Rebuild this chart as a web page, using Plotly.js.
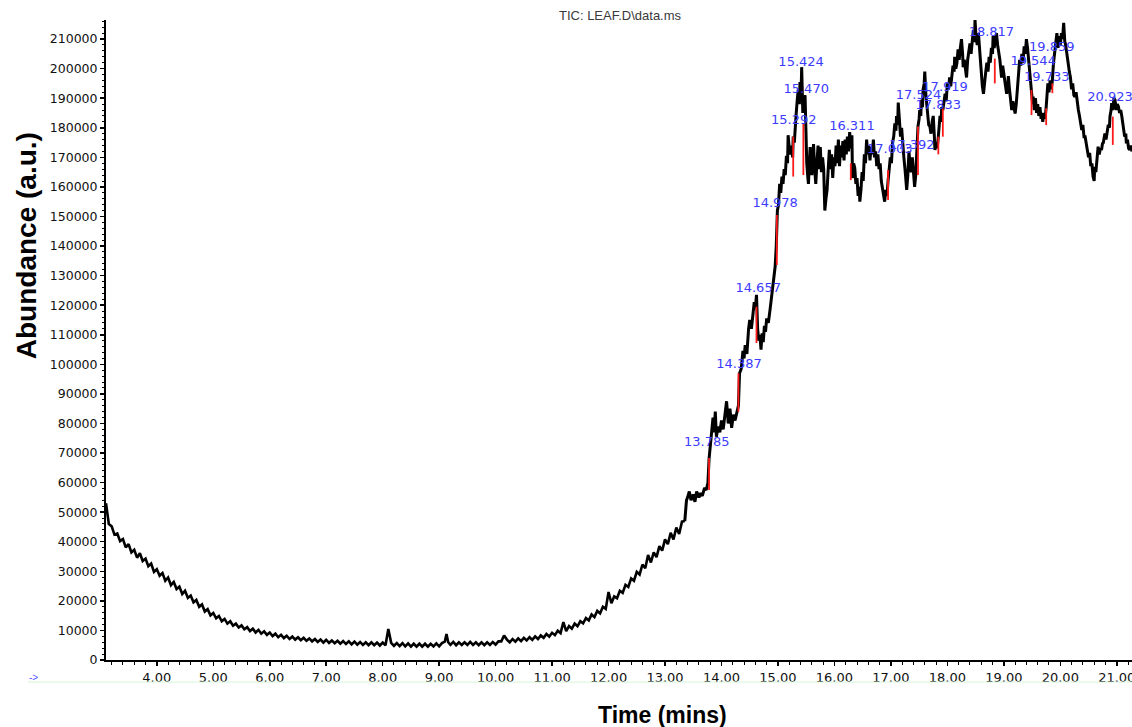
<!DOCTYPE html>
<html><head><meta charset="utf-8">
<script src="https://cdn.plot.ly/plotly-3.0.1.min.js"></script>
<style>html,body{margin:0;padding:0;background:#fff;} #chart{width:1132px;height:727px;}</style>
</head><body><div id="chart"></div>
<script>
// ---- TIC trace: retention time (min) and abundance ----
const baselineTime = [
3.10,3.15,3.20,3.25,3.30,3.35,3.40,3.45,3.50,3.55,
3.60,3.65,3.70,3.75,3.80,3.85,3.90,3.95,4.00,4.05,
4.10,4.15,4.20,4.25,4.30,4.35,4.40,4.45,4.50,4.55,
4.60,4.65,4.70,4.75,4.80,4.85,4.90,4.95,5.00,5.05,
5.10,5.15,5.20,5.25,5.30,5.35,5.40,5.45,5.50,5.55,
5.60,5.65,5.70,5.75,5.80,5.85,5.90,5.95,6.00,6.05,
6.10,6.15,6.20,6.25,6.30,6.35,6.40,6.45,6.50,6.55,
6.60,6.65,6.70,6.75,6.80,6.85,6.90,6.95,7.00,7.05,
7.10,7.15,7.20,7.25,7.30,7.35,7.40,7.45,7.50,7.55,
7.60,7.65,7.70,7.75,7.80,7.85,7.90,7.95,8.00,8.05,
8.10,8.15,8.20,8.25,8.30,8.35,8.40,8.45,8.50,8.55,
8.60,8.65,8.70,8.75,8.80,8.85,8.90,8.95,9.00,9.05,
9.10,9.13,9.16,9.20,9.25,9.30,9.35,9.40,9.45,9.50,
9.55,9.60,9.65,9.70,9.75,9.80,9.85,9.90,9.95,10.00,
10.05,10.10,10.15,10.20,10.25,10.30,10.35,10.40,10.45,10.50,
10.55,10.60,10.65,10.70,10.75,10.80,10.85,10.90,10.95,11.00,
11.05,11.10,11.15,11.20,11.25,11.30,11.35,11.40,11.45,11.50,
11.55,11.60,11.65,11.70,11.75,11.80,11.85,11.90,11.95,12.00,
12.05,12.10,12.15,12.20,12.25,12.30,12.35,12.40,12.45,12.50,
12.55,12.60,12.65,12.70,12.75,12.80,12.85,12.90,12.95,13.00,
13.05,13.10,13.15,13.20,13.25,13.30,13.35
];
const baselineAbundance = [
53000,46000,45200,42400,42800,40200,40900,38100,39200,36400,
37300,34600,36100,33500,34300,31700,32600,29800,30700,28500,
29400,26800,27900,25300,26400,24000,24800,22300,23400,21000,
21800,19500,20300,18000,18800,16400,17200,15100,15900,14100,
14900,13100,13900,12300,13100,11600,12300,11000,11700,10400,
11100,9800,10600,9300,10200,8900,9700,8500,9300,8100,
8900,7700,8500,7400,8200,7100,7900,6900,7700,6700,
7500,6500,7300,6300,7100,6100,6900,5900,6800,5800,
6600,5700,6500,5500,6400,5400,6300,5300,6200,5200,
6100,5100,6000,5000,6000,5000,5900,4900,5900,5000,
10500,5800,4800,5700,4700,5700,4600,5600,4500,5500,
4500,5500,4500,5500,4500,5500,4600,5600,4600,5700,
6200,8800,6000,5100,6100,5000,6000,5100,6000,5100,
6100,5100,6000,5000,6000,5000,6000,5100,6100,5200,
6300,6300,8300,6900,6000,7100,6200,7300,6400,7500,
6600,7700,6800,8000,7100,8300,7500,8800,7900,9200,
8400,9900,9100,12800,9800,11500,10600,12300,11400,13100,
12400,14200,13400,15400,14500,16600,15800,18000,17300,23000,
19200,21500,20900,23400,22700,25400,24700,27600,26800,29800,
28900,32300,31000,35500,33000,36400,34800,38500,37000,40800,
39200,43000,40800,44800,42600,46800,47000
];
const peakZoneTime = [
13.35,13.38,13.40,13.43,13.46,13.50,13.53,13.56,13.60,13.63,13.66,
13.70,13.73,13.76,13.78,13.80,13.82,13.85,13.87,13.89,13.91,
13.94,13.97,14.00,14.03,14.06,14.09,14.12,14.15,14.18,14.21,
14.24,14.27,14.30,14.32,14.35,14.38,14.40,14.42,14.45,14.48,
14.50,14.53,14.56,14.58,14.60,14.62,14.64,14.66,14.68,14.70,
14.72,14.74,14.76,14.78,14.80,14.83,14.86,14.88,14.90,14.92,
14.95,14.97,14.99,15.01,15.03,15.05,15.07,15.09,15.11,15.13,
15.15,15.17,15.18,15.21,15.24,15.26,15.27,15.29,15.30,15.32,
15.34,15.36,15.38,15.39,15.41,15.42,15.44,15.46,15.48,15.49,
15.51,15.53,15.54,15.56,15.57,15.59,15.60,15.62,15.63,15.65,
15.67,15.69,15.71,15.73,15.75,15.77,15.79,15.81,15.83,15.85,
15.87,15.89,15.91,15.93,15.95,15.97,15.99,16.01,16.03,16.05,
16.07,16.09,16.11,16.13,16.15,16.17,16.19,16.21,16.23,16.25,
16.27,16.29,16.31,16.32,16.34,16.36,16.38,16.40,16.42,16.44,
16.45,16.47,16.49,16.51,16.53,16.55,16.57,16.59,16.61,16.63,
16.65,16.67,16.69,16.71,16.73,16.75,16.77,16.79,16.81,16.83,
16.85,16.87,16.89,16.91,16.93,16.95,16.97,16.99,17.01,17.03,
17.05,17.07,17.09,17.10,17.12,17.13,17.15,17.17,17.19,17.21,
17.23,17.25,17.27,17.28,17.30,17.32,17.34,17.36,17.38,17.40,
17.42,17.44,17.45,17.47,17.48,17.50,17.51,17.53,17.54,17.56,
17.57,17.59,17.60,17.62,17.63,17.65,17.67,17.69,17.71,17.73,
17.75,17.77,17.78,17.80,17.82,17.84,17.86,17.87,17.89,17.90,
17.92,17.94,17.96,17.98,18.00,18.02,18.04,18.06,18.08,18.10,
18.12,18.13,18.15,18.17,18.19,18.21,18.23,18.25,18.27,18.28,
18.30,18.32,18.34,18.36,18.38,18.40,18.42,18.44,18.46,18.48,
18.49,18.51,18.53,18.55,18.57,18.58,18.60,18.62,18.64,18.66,
18.68,18.70,18.72,18.74,18.76,18.78,18.80,18.81,18.83,18.85,
18.87,18.89,18.91,18.93,18.95,18.96,18.98,19.00,19.02,19.04,
19.05,19.07,19.08,19.10,19.11,19.13,19.14,19.16,19.18,19.20,
19.22,19.23,19.25,19.26,19.28,19.30,19.32,19.34,19.36,19.38,
19.40,19.42,19.43,19.45,19.47,19.49,19.51,19.52,19.54,19.56,
19.58,19.60,19.62,19.64,19.66,19.67,19.69,19.71,19.73,19.75,
19.76,19.78,19.80,19.82,19.84,19.86,19.88,19.90,19.91,19.93,
19.94,19.96,19.98,20.00,20.02,20.04,20.06,20.08,20.09,20.11,
20.12,20.14,20.16,20.18,20.20,20.22,20.24,20.26,20.28,20.30,
20.32,20.34,20.36,20.38,20.40,20.42,20.44,20.46,20.48,20.50,
20.52,20.54,20.56,20.58,20.60,20.61,20.63,20.65,20.67,20.69,
20.71,20.73,20.75,20.76,20.78,20.79,20.81,20.83,20.85,20.87,
20.88,20.90,20.91,20.93,20.95,20.97,20.99,21.01,21.03,21.05,
21.07,21.09,21.11,21.12,21.14,21.16,21.17,21.19,21.21,21.23,
21.25,21.27
];
const peakZoneAbundance = [
47000,54000,55000,57000,54000,56000,53500,57000,55000,56500,55500,
58200,57500,60000,68000,72000,76000,82000,77000,84000,75500,
79000,77000,81000,78000,84000,87500,80000,85000,78500,83000,
81000,84000,86000,97000,98500,104500,102000,106500,103500,112000,
115000,112000,118500,121000,119000,123500,112000,108000,110000,105000,
110500,107500,113000,111000,115500,114000,118500,122000,125000,128500,
133000,140000,152000,154000,161000,158000,163500,161000,166000,164000,
170500,168000,177500,171000,174000,170000,177000,175000,180000,184000,
189000,193000,188000,195500,192000,200500,185000,190000,191000,178000,
168000,163000,161000,170000,173500,166000,164000,171000,174500,166000,
161000,168000,174000,166000,173500,165000,170000,166000,152000,156000,
159000,166000,172500,166000,171000,163000,170000,167000,174000,168000,
176000,167000,174000,170000,175500,169000,176000,171000,177000,172000,
178500,173000,177500,163000,168000,166500,161000,163000,157000,160000,
155000,159000,165000,162000,171000,168000,176000,171000,174000,169000,
173500,171000,176000,170000,172000,167000,171000,166000,168000,162000,
159000,156500,155000,159000,157000,162000,166000,170000,168000,175000,
177000,181500,179000,184000,181000,188500,183000,177000,180000,173000,
170000,166000,161000,159000,164000,172000,167000,165000,170000,163000,
160000,164000,168000,175000,180500,183000,186000,184000,189500,187000,
193000,195000,199000,191000,189000,185000,181000,180500,178000,182000,
184000,177000,172500,175000,173000,177000,181000,184000,182000,187000,
186000,190000,191500,189000,195000,193000,197000,194000,197500,201000,
199000,204000,200000,202000,206500,203000,207000,210000,205000,200500,
203000,199000,197000,203000,206000,208500,205000,210000,213000,209000,
216500,210000,208000,212000,206000,203000,197000,194000,191500,196000,
199000,202000,199000,204000,202000,207000,205000,211000,207000,210000,
212000,208000,206000,203000,199000,197000,201000,198000,195000,193000,
191500,194000,197500,193000,190500,188000,186000,189000,187000,184800,
188000,190500,193000,197000,203000,201000,205000,202000,207500,205000,
210000,207000,205000,201000,196000,193000,188000,190500,186000,190000,
185000,188000,184000,187000,183000,185000,182000,185000,183000,187000,
190500,195000,192000,196000,193000,196000,202000,205000,207500,210000,
212000,207000,211000,208000,212000,210000,215500,209000,208500,206000,
204000,201800,199000,197000,193000,195000,191000,190500,192000,188000,
186000,184000,181000,179200,181000,177000,177000,174000,172000,170000,
171500,167000,168000,163500,162000,166800,165000,170000,173600,171000,
173000,172500,175000,174700,177000,178100,176000,179000,181000,180000,
183800,186000,188300,186000,190000,189400,186000,188000,187100,185000,
186000,183800,181000,179200,177000,178000,174700,176000,173000,172500,
174000,172000
];

// ---- integration drop lines (red): time, lower and upper abundance ----
const dropTime = [13.78,14.30,14.62,14.98,15.27,15.45,16.29,16.95,17.48,17.84,17.92,18.84,19.49,19.75,19.86,20.93];
const dropLow  = [57500,84000,107200,133600,163500,164000,162300,155600,164000,171000,177000,195000,184300,180900,191700,174200];
const dropHigh = [68300,97000,119500,150500,177000,181500,168000,165700,180400,177000,186600,203400,192800,186600,195000,183800];

// ---- peak retention-time labels (blue) ----
const peakLabels = ['13.785','14.387','14.657','14.978','15.424','15.470','15.292','16.311','17.003','17.392','17.524','17.919','17.833','18.817','19.544','19.859','19.733','20.923'];
const peakLabelTime = [13.74,14.31,14.65,14.95,15.41,15.50,15.28,16.31,16.98,17.37,17.49,17.96,17.84,18.78,19.52,19.85,19.76,20.88];
const peakLabelAbundance = [73400,99800,125500,154200,201900,192800,182300,180300,172500,173900,190700,193400,187500,212200,202300,206900,197000,190300];

const dropX = [], dropY = [];
dropTime.forEach(function(t, i){ dropX.push(t, t, null); dropY.push(dropLow[i], dropHigh[i], null); });

const traces = [
  {x: baselineTime, y: baselineAbundance, type: 'scatter', mode: 'lines',
   line: {color: '#000000', width: 2.6}, hoverinfo: 'skip', showlegend: false},
  {x: peakZoneTime, y: peakZoneAbundance, type: 'scatter', mode: 'lines',
   line: {color: '#000000', width: 3}, hoverinfo: 'skip', showlegend: false},
  {x: dropX, y: dropY, type: 'scatter', mode: 'lines',
   line: {color: '#ff1a1a', width: 1.8}, hoverinfo: 'skip', showlegend: false},
  {x: peakLabelTime, y: peakLabelAbundance, type: 'scatter', mode: 'text', text: peakLabels,
   textposition: 'middle center', cliponaxis: false,
   textfont: {family: 'DejaVu Sans', size: 13, color: '#3c3cff'}, hoverinfo: 'skip', showlegend: false}
];

const layout = {
  width: 1132, height: 727,
  margin: {l: 106, r: 0, t: 20, b: 67},
  paper_bgcolor: '#ffffff', plot_bgcolor: '#ffffff',
  showlegend: false,
  title: {text: 'TIC: LEAF.D\\data.ms', xref: 'paper', x: 0.501, xanchor: 'center',
          yref: 'container', y: 0.979, yanchor: 'middle',
          font: {family: 'Liberation Sans, Arial', size: 13, color: '#3a3a3a'}},
  xaxis: {range: [3.1, 21.27], showgrid: false, zeroline: false,
          showline: true, linecolor: '#000', linewidth: 2,
          ticks: 'outside', ticklen: 4, tickwidth: 1.5, tickcolor: '#000',
          tick0: 0, dtick: 1, tickformat: '.2f', ticklabeloverflow: 'allow',
          tickfont: {family: 'DejaVu Sans', size: 13, color: '#111'},
          minor: {dtick: 0.2, ticks: 'outside', ticklen: 3, tickwidth: 1, tickcolor: '#000', showgrid: false},
          fixedrange: true},
  yaxis: {range: [0, 216450], showgrid: false, zeroline: false,
          showline: true, linecolor: '#000', linewidth: 2,
          ticks: 'outside', ticklen: 4, tickwidth: 1.5, tickcolor: '#000',
          tick0: 0, dtick: 10000, tickformat: 'd',
          tickfont: {family: 'DejaVu Sans', size: 12.5, color: '#111'},
          minor: {dtick: 2000, ticks: 'outside', ticklen: 2, tickwidth: 1, tickcolor: '#000', showgrid: false},
          fixedrange: true},
  annotations: [
    {text: '<b>Abundance (a.u.)</b>', xref: 'paper', yref: 'paper', x: -0.078, y: 0.648,
     textangle: -90, showarrow: false, xanchor: 'center', yanchor: 'middle',
     font: {family: 'Liberation Sans, Arial', size: 28, color: '#000'}},
    {text: '<b>Time (mins)</b>', xref: 'paper', yref: 'paper', x: 0.542, y: -0.086,
     showarrow: false, xanchor: 'center', yanchor: 'middle',
     font: {family: 'Liberation Sans, Arial', size: 23, color: '#000'}},
    {text: '->', xref: 'paper', yref: 'paper', x: -0.0702, y: -0.028,
     showarrow: false, xanchor: 'center', yanchor: 'middle',
     font: {family: 'Liberation Sans, Arial', size: 10, color: '#5555ff'}}
  ],
  shapes: [
    {type: 'line', xref: 'paper', yref: 'paper', x0: -0.076, x1: 1, y0: -0.0344, y1: -0.0344,
     line: {color: '#d6f5d6', width: 1}}
  ]
};

Plotly.newPlot('chart', traces, layout, {staticPlot: true, displayModeBar: false});
</script>
</body></html>
